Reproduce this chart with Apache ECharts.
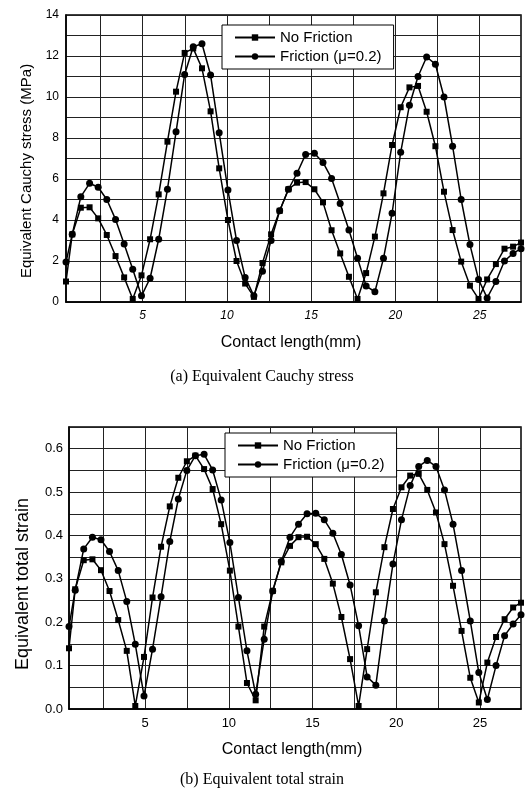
<!DOCTYPE html>
<html>
<head>
<meta charset="utf-8">
<script src="https://cdn.jsdelivr.net/npm/echarts@6/dist/echarts.min.js"></script>
</head>
<body style="margin:0;background:#fff">
<div id="main" style="width:529px;height:798px"></div>
<script>
// contact length positions of the computed points (mm)
var contactX = [0.45, 0.82, 1.33, 1.85, 2.36, 2.87, 3.39, 3.9, 4.41, 4.93,
  5.44, 5.95, 6.47, 6.98, 7.49, 8.0, 8.52, 9.03, 9.54, 10.06,
  10.57, 11.08, 11.6, 12.11, 12.62, 13.13, 13.65, 14.16, 14.67, 15.19,
  15.7, 16.21, 16.72, 17.24, 17.75, 18.26, 18.78, 19.29, 19.8, 20.31,
  20.83, 21.34, 21.85, 22.37, 22.88, 23.39, 23.9, 24.42, 24.93, 25.44,
  25.96, 26.47, 26.98, 27.45];

// (a) equivalent Cauchy stress, MPa
var stressNoFric = [1.0, 3.3, 4.6, 4.62, 4.08, 3.27, 2.24, 1.2, 0.15, 1.3,
  3.06, 5.25, 7.82, 10.26, 12.15, 12.37, 11.4, 9.3, 6.52, 4.0,
  2.0, 0.9, 0.25, 1.9, 3.3, 4.45, 5.5, 5.82, 5.85, 5.5,
  4.86, 3.5, 2.37, 1.23, 0.15, 1.41, 3.19, 5.3, 7.66, 9.5,
  10.47, 10.54, 9.28, 7.6, 5.38, 3.51, 1.97, 0.8, 0.15, 1.1,
  1.85, 2.6, 2.7, 2.9];
var stressFric = [1.95, 3.3, 5.14, 5.79, 5.6, 5.0, 4.03, 2.83, 1.6, 0.3,
  1.16, 3.06, 5.5, 8.3, 11.1, 12.45, 12.6, 11.07, 8.26, 5.46,
  3.0, 1.2, 0.3, 1.5, 3.0, 4.45, 5.5, 6.28, 7.2, 7.26,
  6.81, 6.03, 4.81, 3.51, 2.13, 0.78, 0.5, 2.13, 4.33, 7.3,
  9.6, 11.0, 11.95, 11.6, 10.0, 7.6, 5.0, 2.8, 1.1, 0.2,
  1.0, 2.0, 2.37, 2.6];

// (b) equivalent total strain
var strainNoFric = [0.14, 0.276, 0.343, 0.345, 0.32, 0.272, 0.205, 0.134, 0.007, 0.12,
  0.257, 0.374, 0.467, 0.533, 0.571, 0.584, 0.553, 0.507, 0.426, 0.319,
  0.19, 0.06, 0.02, 0.19, 0.272, 0.338, 0.376, 0.396, 0.397, 0.38,
  0.346, 0.289, 0.212, 0.115, 0.007, 0.138, 0.269, 0.373, 0.461, 0.511,
  0.538, 0.542, 0.505, 0.453, 0.38, 0.284, 0.18, 0.072, 0.015, 0.107,
  0.166, 0.207, 0.234, 0.245];
var strainFric = [0.19, 0.274, 0.369, 0.396, 0.39, 0.363, 0.319, 0.248, 0.149, 0.03,
  0.138, 0.259, 0.386, 0.484, 0.55, 0.584, 0.587, 0.551, 0.482, 0.384,
  0.257, 0.134, 0.034, 0.161, 0.272, 0.34, 0.396, 0.426, 0.45, 0.451,
  0.436, 0.405, 0.356, 0.286, 0.192, 0.074, 0.055, 0.203, 0.334, 0.436,
  0.515, 0.559, 0.573, 0.559, 0.505, 0.426, 0.319, 0.203, 0.084, 0.022,
  0.1, 0.169, 0.196, 0.217];

var xGridLines = [2.5, 5, 7.5, 10, 12.5, 15, 17.5, 20, 22.5, 25];
var xTickLabels = [5, 10, 15, 20, 25];
var seriesNames = ['No Friction', 'Friction (\u03bc=0.2)'];

var sans = "'Liberation Sans', Arial, sans-serif";
var serif = "'Liberation Serif', 'Times New Roman', serif";

function pts(ys) {
  return contactX.map(function (x, i) { return [x, ys[i]]; });
}

function xAxisFor(gi, italic, fs) {
  return {
    type: 'value', gridIndex: gi, min: 0.45, max: 27.45,
    axisLine: { show: true, lineStyle: { color: '#000', width: 1.5 } },
    axisTick: { show: false, customValues: xGridLines },
    axisLabel: { customValues: xTickLabels, color: '#000', fontSize: fs, fontFamily: sans,
      fontStyle: italic ? 'italic' : 'normal', margin: 8 },
    splitLine: { show: true, lineStyle: { color: '#222', width: 1 } }
  };
}

function lineSeries(name, data, gi, sym, size) {
  return {
    type: 'line', name: name, xAxisIndex: gi, yAxisIndex: gi,
    data: pts(data), symbol: sym, symbolSize: size,
    lineStyle: { color: '#000', width: 1.5 },
    itemStyle: { color: '#000' }
  };
}

var myChart = echarts.init(document.getElementById('main'));
var option = {
  animation: false,
  backgroundColor: '#fff',
  grid: [
    { left: 66, top: 15, width: 455, height: 287, show: true, borderColor: '#000', borderWidth: 1.5 },
    { left: 69, top: 427, width: 452, height: 282, show: true, borderColor: '#000', borderWidth: 1.5 }
  ],
  xAxis: [xAxisFor(0, true, 12), xAxisFor(1, false, 13)],
  yAxis: [
    {
      type: 'value', gridIndex: 0, min: 0, max: 14, interval: 1,
      axisLine: { show: true, lineStyle: { color: '#000', width: 1.5 } },
      axisTick: { show: false },
      axisLabel: { color: '#000', fontSize: 12, fontFamily: sans, margin: 7,
        formatter: function (v) { return v % 2 === 0 ? String(v) : ''; } },
      splitLine: { show: true, lineStyle: { color: '#222', width: 1 } }
    },
    {
      type: 'value', gridIndex: 1, min: 0, max: 0.65, interval: 0.05,
      axisLine: { show: true, lineStyle: { color: '#000', width: 1.5 } },
      axisTick: { show: false },
      axisLabel: { color: '#000', fontSize: 13, fontFamily: sans, margin: 6,
        formatter: function (v) {
          var k = Math.round(v * 100);
          return k % 10 === 0 ? (k / 100).toFixed(1) : '';
        } },
      splitLine: { show: true, lineStyle: { color: '#222', width: 1 } }
    }
  ],
  legend: [
    {
      data: seriesNames, orient: 'vertical', left: 222, top: 25,
      backgroundColor: '#fff', borderColor: '#000', borderWidth: 1,
      padding: [5, 12, 5, 12], itemWidth: 40, itemHeight: 8, itemGap: 4,
      textStyle: { color: '#000', fontSize: 15, fontFamily: sans }
    },
    {
      data: seriesNames, orient: 'vertical', left: 225, top: 433,
      backgroundColor: '#fff', borderColor: '#000', borderWidth: 1,
      padding: [5, 12, 5, 12], itemWidth: 40, itemHeight: 8, itemGap: 4,
      textStyle: { color: '#000', fontSize: 15, fontFamily: sans }
    }
  ],
  graphic: [
    { type: 'text', x: 27, y: 171, rotation: Math.PI / 2,
      style: { text: 'Equivalent Cauchy stress (MPa)', font: '15px ' + sans, fill: '#000',
        textAlign: 'center', textVerticalAlign: 'middle' } },
    { type: 'text', x: 291, y: 343,
      style: { text: 'Contact length(mm)', font: '16px ' + sans, fill: '#000',
        textAlign: 'center', textVerticalAlign: 'middle' } },
    { type: 'text', x: 262, y: 377,
      style: { text: '(a) Equivalent Cauchy stress', font: '16px ' + serif, fill: '#000',
        textAlign: 'center', textVerticalAlign: 'middle' } },
    { type: 'text', x: 23, y: 584, rotation: Math.PI / 2,
      style: { text: 'Equivalent total strain', font: '18px ' + sans, fill: '#000',
        textAlign: 'center', textVerticalAlign: 'middle' } },
    { type: 'text', x: 292, y: 750,
      style: { text: 'Contact length(mm)', font: '16px ' + sans, fill: '#000',
        textAlign: 'center', textVerticalAlign: 'middle' } },
    { type: 'text', x: 262, y: 780,
      style: { text: '(b) Equivalent total strain', font: '16px ' + serif, fill: '#000',
        textAlign: 'center', textVerticalAlign: 'middle' } }
  ],
  series: [
    lineSeries(seriesNames[0], stressNoFric, 0, 'rect', 6),
    lineSeries(seriesNames[1], stressFric, 0, 'circle', 7),
    lineSeries(seriesNames[0], strainNoFric, 1, 'rect', 6),
    lineSeries(seriesNames[1], strainFric, 1, 'circle', 7)
  ]
};
myChart.setOption(option);
</script>
</body>
</html>
